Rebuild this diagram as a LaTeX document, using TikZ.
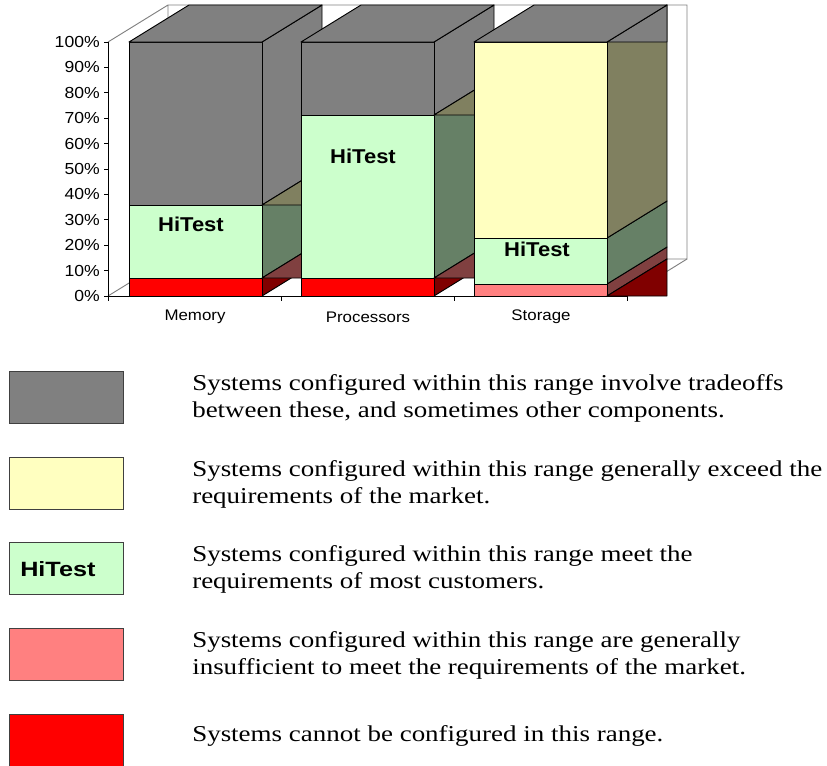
\documentclass[tikz,border=0pt]{standalone}
\usepackage{fontspec}
\setmainfont{Liberation Serif}[FakeStretch=1.19]
\newfontfamily\chartfont{Liberation Sans}[FakeStretch=1.1]
\newfontfamily\keyfont{Liberation Sans}[FakeStretch=1.22]

% fronts of the columns
\definecolor{barred}{HTML}{FF0000}
\definecolor{barpink}{HTML}{FF8080}
\definecolor{bargreen}{HTML}{CCFFCC}
\definecolor{baryellow}{HTML}{FFFFC0}
\definecolor{bargray}{HTML}{808080}
% shaded sides
\definecolor{sidered}{HTML}{800000}
\definecolor{sidepink}{HTML}{804040}
\definecolor{sidegreen}{HTML}{668066}
\definecolor{sideyellow}{HTML}{808060}
\definecolor{sidegray}{HTML}{808080}

\tikzset{
  face/.style={draw=black, line width=0.7pt, line join=round},
  wall/.style={draw=gray, line width=0.7pt},
  ticklabel/.style={font=\chartfont\fontsize{12}{14}\selectfont, anchor=east, inner sep=0pt},
  catlabel/.style={font=\chartfont\fontsize{11.5}{13}\selectfont, inner sep=0pt},
  hitest/.style={font=\chartfont\bfseries\fontsize{15}{18}\selectfont, inner sep=0pt},
  legbox/.style={draw=black!75, line width=0.6pt, minimum width=85.5pt, minimum height=39pt, inner sep=0pt},
  legtext/.style={font=\fontsize{17}{20.25}\selectfont, align=left, anchor=west, inner sep=0pt},
}

\begin{document}
\begin{tikzpicture}[x=0.75pt, y=-0.75pt]
  \useasboundingbox (0,0) rectangle (827,765);

  % walls and floor
  \draw[wall] (108,42) -- (168,5) -- (687,5) -- (687,259) -- (168,259) -- (168,5);
  \draw[wall] (108,296) -- (168,259);
  \draw[wall] (627,296) -- (687,259);

  % axes
  \draw[line width=0.7pt] (108,42) -- (108,296) -- (627,296);
  \foreach \p in {0,10,...,100}{
    \draw[line width=0.7pt] (104,296-2.54*\p) -- (108,296-2.54*\p);
    \node[ticklabel] (tick\p) at (100,296-2.54*\p) {\p\%};
  }
  \foreach \x in {108,281,454,627}
    \draw[line width=0.7pt] (\x,296) -- (\x,301);

  % columns: left edge / stacked bands / zero bands
  \foreach \l/\segs/\wedges in {
      129/{296/278/barred/sidered,278/205/bargreen/sidegreen,205/42/bargray/sidegray}/{278/sidepink,205/sideyellow},
      301/{296/278/barred/sidered,278/115/bargreen/sidegreen,115/42/bargray/sidegray}/{278/sidepink,115/sideyellow},
      474/{296/284/barpink/sidepink,284/238/bargreen/sidegreen,238/42/baryellow/sideyellow}/{296/sidered,42/sidegray}}{
    \pgfmathsetmacro\r{\l+133}
    \foreach \b/\t/\front/\side in \segs{
      \filldraw[face, fill=\side] (\r,\b) -- ++(60,-37) -- (\r+60,\t-37) -- (\r,\t) -- cycle;
      \filldraw[face, fill=\front] (\l,\b) rectangle (\r,\t);
    }
    \foreach \t/\side in \wedges
      \filldraw[face, fill=\side] (\r,\t) -- ++(60,-37) -- ++(0,37) -- cycle;
    \filldraw[face, fill=bargray] (\l,42) -- ++(60,-37) -- (\r+60,5) -- (\r,42) -- cycle;
  }

  \node[hitest] (hiMem) at (191,224) {HiTest};
  \node[hitest] (hiProc) at (363,156) {HiTest};
  \node[hitest] (hiStor) at (537,249) {HiTest};

  \node[catlabel] (catMem) at (195,317) {Memory};
  \node[catlabel] (catProc) at (368,317) {Processors};
  \node[catlabel] (catStor) at (541,317) {Storage};

  % key
  \foreach \i/\col in {0/bargray,1/baryellow,2/bargreen,3/barpink,4/barred}
    \node[legbox, fill=\col] (key\i) at (66,397.5+85.6*\i) {};
  \node[font=\keyfont\bfseries\fontsize{15.5}{18}\selectfont, inner sep=0pt, anchor=west] (keyHi) at (20,569) {HiTest};

  \node[legtext] (note0) at (192,398) {Systems configured within this range involve tradeoffs\\between these, and sometimes other components.};
  \node[legtext] (note1) at (192,484) {Systems configured within this range generally exceed the\\requirements of the market.};
  \node[legtext] (note2) at (192,569) {Systems configured within this range meet the\\requirements of most customers.};
  \node[legtext] (note3) at (192,655) {Systems configured within this range are generally\\insufficient to meet the requirements of the market.};
  \node[legtext] (note4) at (192,736) {Systems cannot be configured in this range.};
\end{tikzpicture}
\end{document}
